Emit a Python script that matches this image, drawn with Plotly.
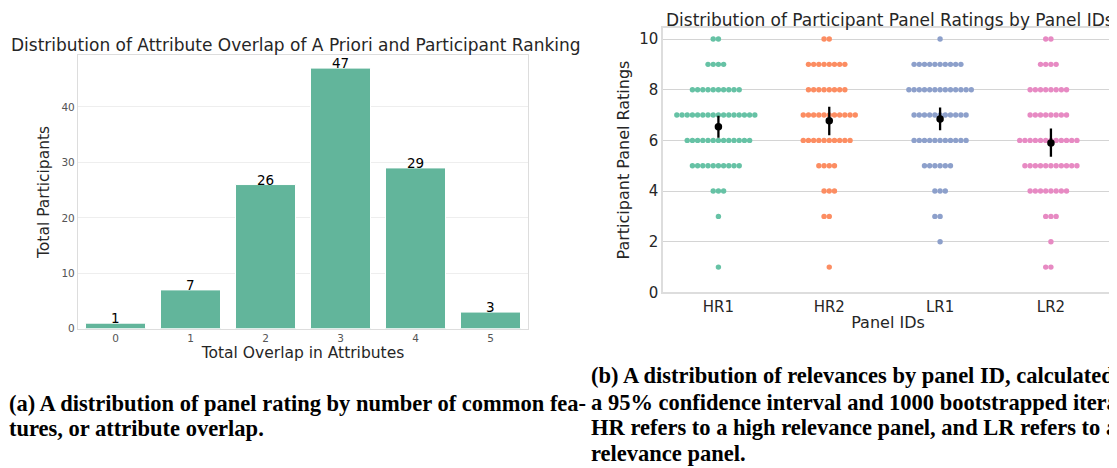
import plotly.graph_objects as go

W, H = 1117, 468

# ---------------- data ----------------
overlap_levels = [0, 1, 2, 3, 4, 5]
overlap_counts = [1, 7, 26, 47, 29, 3]

panels = ["HR1", "HR2", "LR1", "LR2"]
rating_levels = [10, 9, 8, 7, 6, 5, 4, 3, 2, 1]
hr1_counts = [2, 4, 10, 16, 13, 10, 3, 1, 0, 1]
hr2_counts = [2, 8, 8, 11, 10, 4, 3, 2, 0, 1]
lr1_counts = [1, 10, 13, 11, 11, 6, 3, 2, 1, 0]
lr2_counts = [2, 4, 8, 8, 12, 11, 8, 3, 1, 2]
ci_low = [6.10, 6.20, 6.40, 5.35]
ci_high = [6.97, 7.33, 7.30, 6.47]
panel_colors = ["#66c2a5", "#fc8d62", "#8da0cb", "#e78ac3"]

cap_a = ["(a) A distribution of panel rating by number of common fea-",
         "tures, or attribute overlap."]
cap_b = ["(b) A distribution of relevances by panel ID, calculated with",
         "a 95% confidence interval and 1000 bootstrapped iterations.",
         "HR refers to a high relevance panel, and LR refers to a low",
         "relevance panel."]

# ---------------- layout geometry (pixels) ----------------
def px(x):
    return x / W

def py(y):
    return 1 - y / H

L_X0, L_X1, L_Y0, L_Y1 = 70, 520, 48, 327
R_X0, R_X1, R_Y0, R_Y1 = 655, 1105, 20, 290
R_XRANGE = [-0.5, 3.56]
DOT_PX = 5.2

fig = go.Figure()

# ---- left: bar chart ----
fig.add_trace(go.Bar(
    x=overlap_levels, y=overlap_counts, width=0.8,
    marker=dict(color="#62b59b", line=dict(color="#ffffff", width=1)),
    xaxis="x", yaxis="y", showlegend=False, hoverinfo="x+y"))

annotations = []
for xv, yv in zip(overlap_levels, overlap_counts):
    annotations.append(dict(x=xv, y=yv, xref="x", yref="y", text=str(yv),
                            showarrow=False, yanchor="middle", yshift=5,
                            font=dict(family="DejaVu Sans", size=13.5, color="#000000")))

# ---- right: swarm plot ----
units_per_px = (R_XRANGE[1] - R_XRANGE[0]) / (R_X1 - R_X0)
step = DOT_PX * units_per_px
all_counts = [hr1_counts, hr2_counts, lr1_counts, lr2_counts]
means = []
for i, counts in enumerate(all_counts):
    xs, ys = [], []
    total, s = 0, 0
    for lvl, n in zip(rating_levels, counts):
        total += n
        s += lvl * n
        for k in range(n):
            off = k - n // 2
            xs.append(i + off * step)
            ys.append(lvl)
    means.append(s / total)
    fig.add_trace(go.Scatter(
        x=xs, y=ys, mode="markers", xaxis="x2", yaxis="y2", showlegend=False,
        marker=dict(color=panel_colors[i], size=5.4, line=dict(width=0)),
        hoverinfo="y"))

fig.add_trace(go.Scatter(
    x=list(range(len(panels))), y=means, mode="markers", xaxis="x2", yaxis="y2",
    showlegend=False,
    marker=dict(color="#000000", size=7.5),
    error_y=dict(type="data", symmetric=False,
                 array=[h - m for h, m in zip(ci_high, means)],
                 arrayminus=[m - l for l, m in zip(ci_low, means)],
                 color="#000000", thickness=2.3, width=0)))

# ---- titles ----
annotations.append(dict(x=px(1), y=py(38), xref="paper", yref="paper",
                        text="Distribution of Attribute Overlap of A Priori and Participant Ranking",
                        showarrow=False, xanchor="left", yanchor="middle",
                        font=dict(family="DejaVu Sans", size=17, color="#262626")))
annotations.append(dict(x=px(882), y=py(12), xref="paper", yref="paper",
                        text="Distribution of Participant Panel Ratings by Panel IDs",
                        showarrow=False, xanchor="center", yanchor="middle",
                        font=dict(family="DejaVu Sans", size=17, color="#262626")))

# ---- captions ----
cap_font = dict(family="Liberation Serif", size=22.5, color="#000000")
for j, line in enumerate(cap_a):
    annotations.append(dict(x=0, y=py([403, 429][j]), xref="paper", yref="paper",
                            text="<b>" + line + "</b>", showarrow=False, borderpad=0,
                            xanchor="left", yanchor="middle", font=cap_font))
for j, line in enumerate(cap_b):
    annotations.append(dict(x=px(581), y=py([375, 402, 428, 454][j]), xref="paper", yref="paper",
                            text="<b>" + line + "</b>", showarrow=False,
                            xanchor="left", yanchor="middle", font=cap_font))

fig.update_layout(
    width=W, height=H, margin=dict(l=0, r=0, t=0, b=0),
    paper_bgcolor="#ffffff", plot_bgcolor="#ffffff",
    font=dict(family="DejaVu Sans", color="#262626"),
    bargap=0.2,
    xaxis=dict(domain=[px(L_X0), px(L_X1)], range=[-0.5, 5.5],
               tickvals=overlap_levels, ticktext=[str(v) for v in overlap_levels],
               showgrid=False, zeroline=False, showline=True, mirror=True,
               linecolor="#dddddd", linewidth=1.2, ticks="",
               tickfont=dict(size=10.5, color="#555555"),
               title=dict(text="Total Overlap in Attributes", standoff=3,
                          font=dict(size=15.5, color="#262626"))),
    yaxis=dict(domain=[py(L_Y1), py(L_Y0)], range=[0, 49.35],
               tickvals=[0, 10, 20, 30, 40], showgrid=True, gridcolor="#eeeeee",
               gridwidth=1, zeroline=False, showline=True, mirror=True,
               linecolor="#dddddd", linewidth=1.2, ticks="",
               tickfont=dict(size=10.5, color="#555555"),
               title=dict(text="Total Participants", standoff=7,
                          font=dict(size=15.5, color="#262626"))),
    xaxis2=dict(domain=[px(R_X0), px(R_X1)], range=R_XRANGE, anchor="y2",
                tickvals=list(range(len(panels))), ticktext=panels,
                showgrid=False, zeroline=False, showline=True, mirror=True,
                linecolor="#dddddd", linewidth=1.5, ticks="",
                tickfont=dict(size=15, color="#262626"),
                title=dict(text="Panel IDs", standoff=2,
                           font=dict(size=16, color="#262626"))),
    yaxis2=dict(domain=[py(R_Y1), py(R_Y0)], range=[0, 10.45], anchor="x2",
                tickvals=[0, 2, 4, 6, 8, 10], showgrid=True, gridcolor="#d4d4d4",
                gridwidth=1.4, zeroline=False, showline=True, mirror=True,
                linecolor="#dddddd", linewidth=1.5, ticks="",
                tickfont=dict(size=15, color="#262626"),
                title=dict(text="Participant Panel Ratings", standoff=6,
                           font=dict(size=16, color="#262626"))),
    annotations=annotations,
)

fig.write_html("out.html")
